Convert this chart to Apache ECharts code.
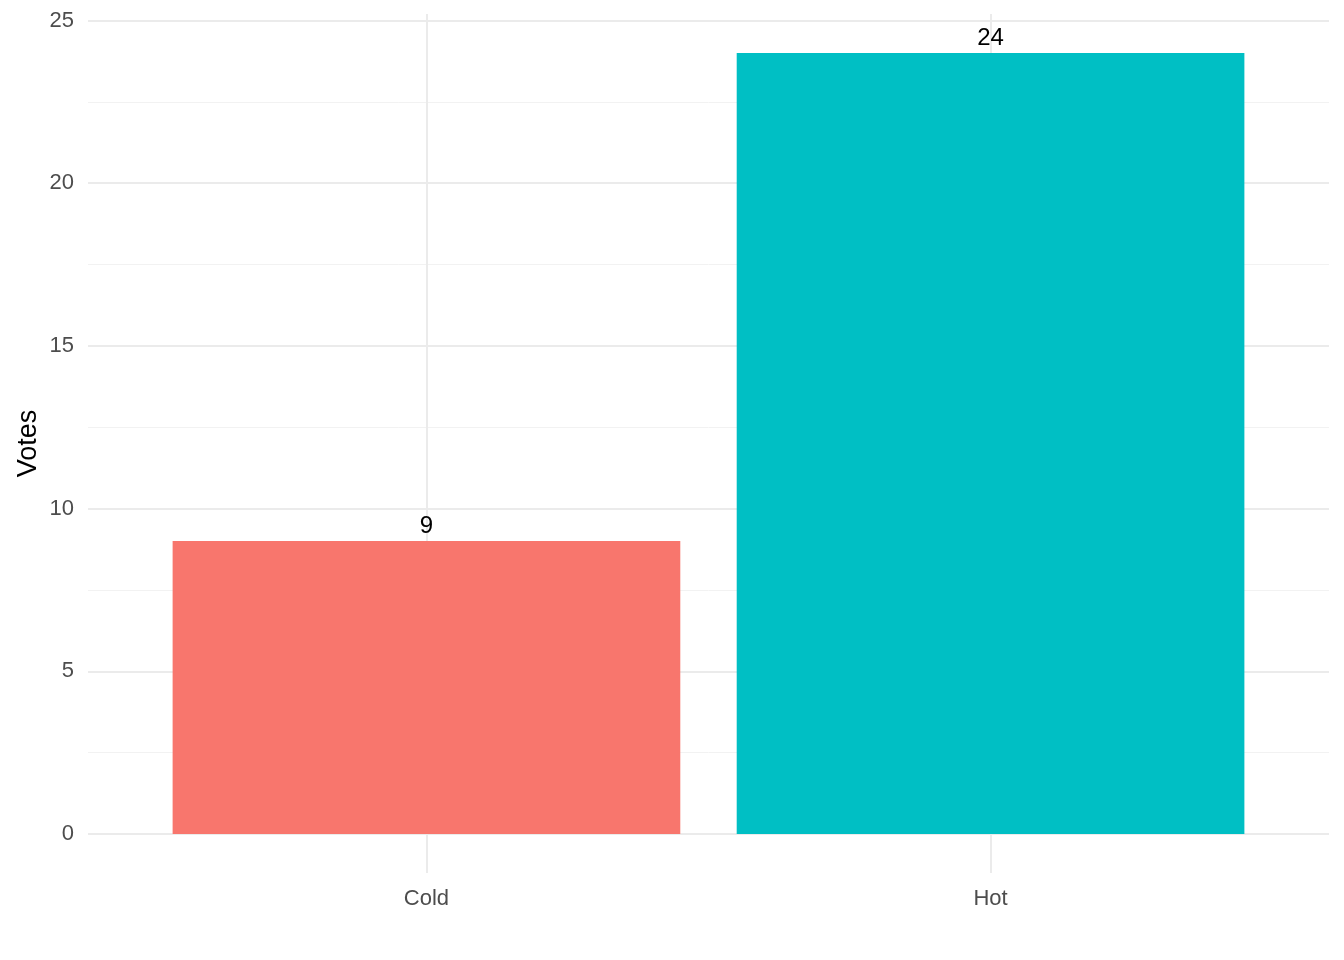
<!DOCTYPE html>
<html>
<head>
<meta charset="utf-8">
<script src="https://cdn.jsdelivr.net/npm/echarts@6/dist/echarts.min.js"></script>
<style>
  html, body { margin: 0; padding: 0; background: #fff; }
  #chart { width: 1344px; height: 960px; }
</style>
</head>
<body>
<div id="chart"></div>
<script>
// data
const categories = ['Cold', 'Hot'];
const votes = [9, 24];
const barColors = ['#F8766D', '#00BFC4'];
const yMajorTicks = [0, 5, 10, 15, 20, 25];
const yMinorTicks = [2.5, 7.5, 12.5, 17.5, 22.5];

const positions = categories.map((c, i) => i + 1);

const chart = echarts.init(document.getElementById('chart'));

const option = {
  backgroundColor: '#fff',
  animation: false,
  textStyle: { fontFamily: 'Liberation Sans, Arial, sans-serif' },
  grid: { left: 88, right: 15, top: 14, bottom: 87, containLabel: false },
  xAxis: {
    type: 'value',
    min: 0.4,
    max: 2.6,
    axisLine: { show: false },
    axisTick: { show: false, customValues: positions },
    axisLabel: {
      customValues: positions,
      formatter: v => categories[Math.round(v) - 1] || '',
      color: '#4D4D4D',
      fontSize: 22,
      margin: 15
    },
    splitLine: { show: true, lineStyle: { color: '#EBEBEB', width: 2 } }
  },
  yAxis: [
    {
      type: 'value',
      min: -1.2,
      max: 25.2,
      name: 'Votes',
      nameLocation: 'middle',
      nameGap: 46,
      nameMoveOverlap: false,
      nameTextStyle: { color: '#000', fontSize: 27 },
      axisLine: { show: false },
      axisTick: { show: false, customValues: yMajorTicks },
      axisLabel: {
        customValues: yMajorTicks,
        color: '#4D4D4D',
        fontSize: 22,
        margin: 14,
        padding: [6, 0, 0, 0]
      },
      splitLine: { show: true, lineStyle: { color: '#EBEBEB', width: 2 } }
    },
    {
      type: 'value',
      min: -1.2,
      max: 25.2,
      position: 'left',
      axisLine: { show: false },
      axisTick: { show: false, customValues: yMinorTicks },
      axisLabel: { show: false, customValues: yMinorTicks },
      splitLine: { show: true, lineStyle: { color: '#F2F2F2', width: 1 } }
    }
  ],
  series: [
    {
      type: 'bar',
      yAxisIndex: 0,
      barWidth: '90%',
      data: votes.map((v, i) => ({
        value: [positions[i], v],
        itemStyle: { color: barColors[i] }
      })),
      label: {
        show: true,
        position: 'top',
        distance: 3,
        color: '#000',
        fontSize: 24,
        formatter: p => p.value[1]
      }
    }
  ]
};

chart.setOption(option);
</script>
</body>
</html>
